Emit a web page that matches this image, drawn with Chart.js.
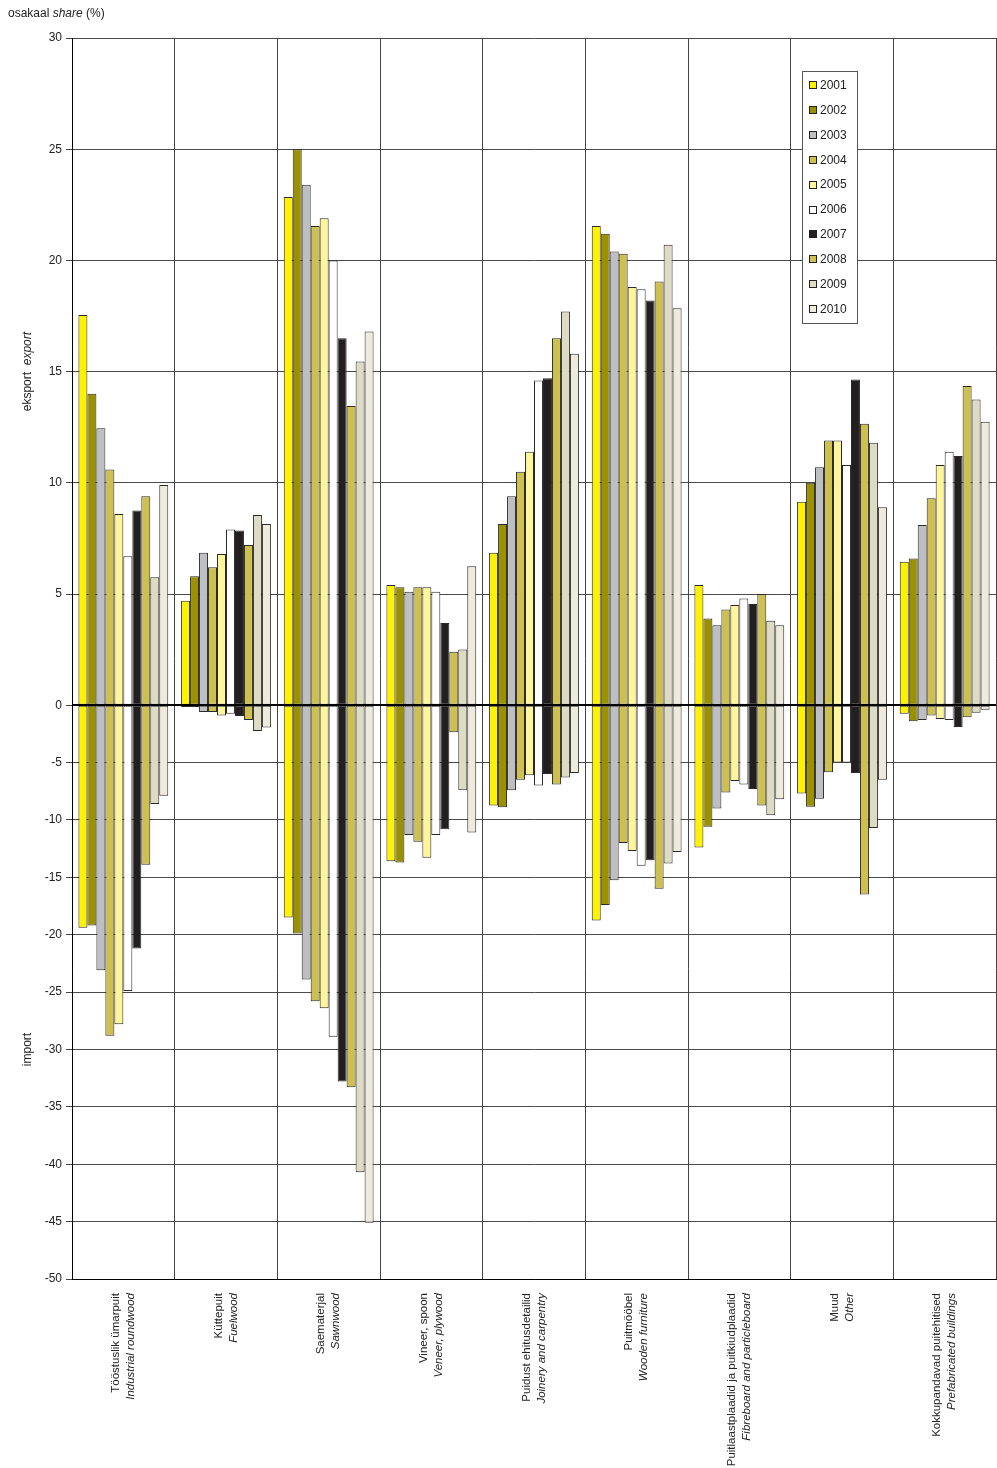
<!DOCTYPE html>
<html>
<head>
<meta charset="utf-8">
<title>Puittoodete osakaal</title>
<script src="https://cdn.jsdelivr.net/npm/chart.js@4.4.1/dist/chart.umd.min.js"></script>
<style>
    html, body { margin: 0; padding: 0; background: #fff; }
    canvas { display: block; }
</style>
</head>
<body>
<canvas id="shareChart" width="997" height="1468"></canvas>
<script>
// Categories: Estonian name + English name (italic)
const categoriesEt = ['Tööstuslik ümarpuit', 'Küttepuit', 'Saematerjal', 'Vineer, spoon',
    'Puidust ehitusdetailid', 'Puitmööbel', 'Puitlaastplaadid ja puitkiudplaadid', 'Muud',
    'Kokkupandavad puitehitised'];
const categoriesEn = ['Industrial roundwood', 'Fuelwood', 'Sawnwood', 'Veneer, plywood',
    'Joinery and carpentry', 'Wooden furniture', 'Fibreboard and particleboard', 'Other',
    'Prefabricated buildings'];

const years = ['2001', '2002', '2003', '2004', '2005', '2006', '2007', '2008', '2009', '2010'];

// Export share (%) per year, one value per category
const export2001 = [17.55, 4.7, 22.85, 5.4, 6.85, 21.55, 5.4, 9.15, 6.45];
const export2002 = [14.0, 5.8, 25.0, 5.3, 8.15, 21.2, 3.9, 10.0, 6.6];
const export2003 = [12.45, 6.85, 23.4, 5.1, 9.4, 20.4, 3.6, 10.7, 8.1];
const export2004 = [10.6, 6.2, 21.55, 5.3, 10.5, 20.3, 4.3, 11.9, 9.3];
const export2005 = [8.6, 6.8, 21.9, 5.3, 11.4, 18.8, 4.5, 11.9, 10.8];
const export2006 = [6.7, 7.9, 20.0, 5.1, 14.6, 18.7, 4.8, 10.8, 11.4];
const export2007 = [8.75, 7.85, 16.5, 3.7, 14.7, 18.2, 4.55, 14.65, 11.2];
const export2008 = [9.4, 7.2, 13.45, 2.4, 16.5, 19.05, 5.0, 12.65, 14.35];
const export2009 = [5.75, 8.55, 15.45, 2.5, 17.7, 20.7, 3.8, 11.8, 13.75];
const export2010 = [9.9, 8.15, 16.8, 6.25, 15.8, 17.85, 3.6, 8.9, 12.75];

// Import share (%) per year, shown as negative values
const import2001 = [-19.4, -0.15, -18.5, -13.6, -8.75, -18.75, -12.4, -7.7, -0.75];
const import2002 = [-19.2, -0.15, -19.9, -13.7, -8.9, -17.4, -10.6, -8.85, -1.4];
const import2003 = [-23.1, -0.6, -23.9, -11.3, -7.4, -15.25, -9.0, -8.15, -1.3];
const import2004 = [-28.8, -0.6, -25.8, -11.9, -6.5, -12.0, -7.6, -5.85, -0.9];
const import2005 = [-27.8, -0.9, -26.4, -13.3, -6.1, -12.7, -6.6, -5.0, -1.2];
const import2006 = [-24.9, -0.75, -28.9, -11.3, -7.0, -14.0, -6.9, -5.0, -1.3];
const import2007 = [-21.2, -0.95, -32.8, -10.8, -6.0, -13.5, -7.3, -5.9, -1.9];
const import2008 = [-13.9, -1.3, -33.3, -2.35, -6.9, -16.0, -8.75, -16.5, -1.05];
const import2009 = [-8.6, -2.25, -40.7, -7.4, -6.3, -13.8, -9.6, -10.7, -0.65];
const import2010 = [-7.9, -1.95, -45.1, -11.1, -5.9, -12.8, -8.2, -6.5, -0.4];

const exportSeries = [export2001, export2002, export2003, export2004, export2005,
    export2006, export2007, export2008, export2009, export2010];
const importSeries = [import2001, import2002, import2003, import2004, import2005,
    import2006, import2007, import2008, import2009, import2010];

const yearColors = ['#FFF200', '#9A9000', '#BEBFC3', '#CDC050', '#FFF59A',
    '#FFFFFF', '#231F20', '#CDC050', '#DEDBC5', '#EEEBDD'];

const FONT = "'Liberation Sans', Arial, sans-serif";

// The import half of the axis is drawn at about half the scale of the export half
const NEG_FACTOR = 0.516;

class SplitLinearScale extends Chart.LinearScale {
    fwd(v) { return v < 0 ? v * NEG_FACTOR : v; }
    inv(t) { return t < 0 ? t / NEG_FACTOR : t; }
    getPixelForValue(value) {
        if (value === null || value === undefined) return NaN;
        const a = this.fwd(this.min), b = this.fwd(this.max);
        return this.getPixelForDecimal((this.fwd(value) - a) / (b - a));
    }
    getValueForPixel(pixel) {
        const a = this.fwd(this.min), b = this.fwd(this.max);
        return this.inv(a + this.getDecimalForPixel(pixel) * (b - a));
    }
}
SplitLinearScale.id = 'splitLinear';
SplitLinearScale.defaults = Chart.LinearScale.defaults;
Chart.register(SplitLinearScale);

// Build datasets: export + import of the same year share one stack
const datasets = [];
years.forEach((year, i) => {
    const common = {
        stack: year,
        backgroundColor: yearColors[i],
        borderColor: '#2a2a2a',
        borderWidth: 1,
        borderSkipped: false,
        categoryPercentage: 0.875,
        barPercentage: 1.0
    };
    datasets.push(Object.assign({ label: year, data: exportSeries[i] }, common));
    datasets.push(Object.assign({ label: year + ' import', data: importSeries[i], isImport: true }, common));
});

// Draw text made of regular / italic parts
function drawMixed(ctx, parts, x, y, align, size) {
    const px = (size || 12) + 'px ';
    let total = 0;
    parts.forEach(p => {
        ctx.font = (p.italic ? 'italic ' : '') + px + FONT;
        total += ctx.measureText(p.text).width;
    });
    let cx = align === 'center' ? x - total / 2 : (align === 'right' ? x - total : x);
    ctx.textAlign = 'left';
    parts.forEach(p => {
        ctx.font = (p.italic ? 'italic ' : '') + px + FONT;
        ctx.fillText(p.text, cx, y);
        cx += ctx.measureText(p.text).width;
    });
}

const decorations = {
    id: 'decorations',
    afterDatasetsDraw(chart) {
        const { ctx, chartArea, scales: { y } } = chart;
        const y0 = Math.round(y.getPixelForValue(0));
        ctx.save();
        ctx.strokeStyle = '#000';
        ctx.lineWidth = 2;
        ctx.beginPath();
        ctx.moveTo(chartArea.left, y0);
        ctx.lineTo(chartArea.right, y0);
        ctx.stroke();
        ctx.restore();
    },
    afterDraw(chart) {
        const { ctx, scales: { x, y } } = chart;
        ctx.save();
        ctx.fillStyle = '#222';
        ctx.textBaseline = 'alphabetic';

        // Header
        drawMixed(ctx, [{ text: 'osakaal ' }, { text: 'share', italic: true }, { text: ' (%)' }], 8, 17, 'left');

        // Y axis titles
        ctx.save();
        ctx.translate(31, y.getPixelForValue(15));
        ctx.rotate(-Math.PI / 2);
        drawMixed(ctx, [{ text: 'eksport  ' }, { text: 'export', italic: true }], 0, 0, 'center');
        ctx.restore();

        ctx.save();
        ctx.translate(31, y.getPixelForValue(-30));
        ctx.rotate(-Math.PI / 2);
        drawMixed(ctx, [{ text: 'import' }], 0, 0, 'center');
        ctx.restore();

        // Category labels (rotated)
        ctx.textBaseline = 'middle';
        categoriesEt.forEach((name, i) => {
            const cx = x.getPixelForValue(i);
            ctx.save();
            ctx.translate(cx - 7.5, y.bottom + 14);
            ctx.rotate(-Math.PI / 2);
            drawMixed(ctx, [{ text: name }], 0, 0, 'right', 11.5);
            ctx.restore();
            ctx.save();
            ctx.translate(cx + 7.5, y.bottom + 14);
            ctx.rotate(-Math.PI / 2);
            drawMixed(ctx, [{ text: categoriesEn[i], italic: true }], 0, 0, 'right', 11.5);
            ctx.restore();
        });

        // Legend box
        const lx = 802.5, ly = 71.5, lw = 55, lh = 252;
        ctx.fillStyle = '#fff';
        ctx.fillRect(lx, ly, lw, lh);
        ctx.strokeStyle = '#555';
        ctx.lineWidth = 1;
        ctx.strokeRect(lx, ly, lw, lh);
        ctx.textBaseline = 'middle';
        chart.data.datasets.filter(d => !d.isImport).forEach((d, i) => {
            const cy = 85 + i * 24.9;
            ctx.fillStyle = d.backgroundColor;
            ctx.fillRect(809.5, Math.round(cy) - 3.5, 7, 7);
            ctx.strokeStyle = '#222';
            ctx.strokeRect(809.5, Math.round(cy) - 3.5, 7, 7);
            ctx.fillStyle = '#222';
            drawMixed(ctx, [{ text: d.label }], 820, cy + 0.5, 'left');
        });
        ctx.restore();
    }
};

const ctx = document.getElementById('shareChart').getContext('2d');
new Chart(ctx, {
    type: 'bar',
    data: { labels: categoriesEt, datasets: datasets },
    options: {
        responsive: false,
        animation: false,
        devicePixelRatio: 1,
        layout: { padding: { top: 38, right: 1, left: 0, bottom: 0 } },
        plugins: {
            legend: { display: false },
            tooltip: { enabled: false },
            title: { display: false }
        },
        scales: {
            x: {
                offset: true,
                afterFit: s => { s.height = 189; },
                border: { display: true, color: '#000', width: 1 },
                grid: { color: '#444', lineWidth: 1, drawTicks: false, offset: true },
                ticks: { display: false }
            },
            y: {
                type: 'splitLinear',
                stacked: true,
                min: -50,
                max: 30,
                afterFit: s => { s.width = 72; },
                border: { display: true, color: '#000', width: 1 },
                grid: {
                    color: c => (c.tick && c.tick.value === 0 ? '#000' : '#4a4a4a'),
                    lineWidth: 1,
                    tickLength: 6,
                    tickColor: '#444'
                },
                ticks: {
                    stepSize: 5,
                    padding: 4,
                    color: '#222',
                    font: { family: FONT, size: 12 },
                    callback: v => String(v)
                }
            }
        }
    },
    plugins: [decorations]
});
</script>
</body>
</html>
